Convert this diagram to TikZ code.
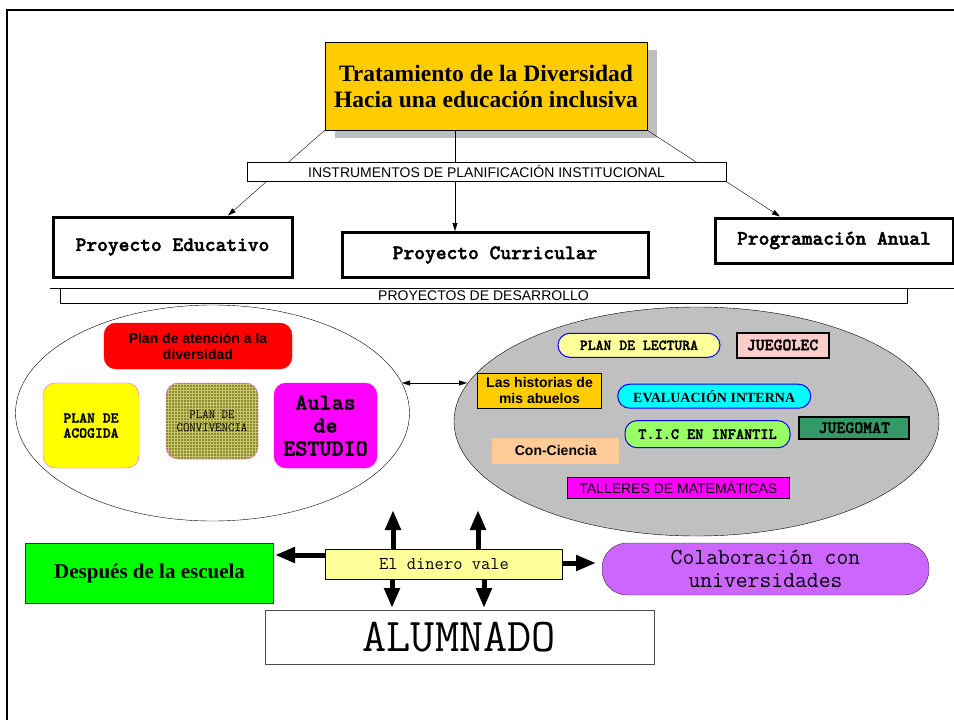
\documentclass[tikz,border=0pt]{standalone}
\usepackage{fontspec}
\setmainfont{Liberation Serif}
\newfontfamily\arialf{Liberation Sans}
\newcommand\courf{\ttfamily}
\newfontfamily\courbf[Extension=.otf,FakeBold=2]{lmmonolt10-bold}
\usetikzlibrary{shapes.geometric,arrows.meta,calc,patterns,shadows}
\newcommand\myfs[2]{\fontsize{#1}{#2}\selectfont}
\definecolor{titleyellow}{HTML}{FFCC00}
\definecolor{lightyel}{HTML}{FFFF99}
\definecolor{pureyellow}{HTML}{FFFF00}
\definecolor{puremagenta}{HTML}{FF00FF}
\definecolor{puregreen}{HTML}{00FF00}
\definecolor{purered}{HTML}{FF0000}
\definecolor{pinkbd}{HTML}{FF55FF}
\definecolor{olivebg}{HTML}{8E8C30}
\definecolor{olivegrid}{HTML}{C8C46A}
\definecolor{pinkfill}{HTML}{FFCCCC}
\definecolor{cyanfill}{HTML}{00FFFF}
\definecolor{ticgreen}{HTML}{99FF66}
\definecolor{seagreen}{HTML}{339966}
\definecolor{peach}{HTML}{FFCC99}
\definecolor{lilac}{HTML}{CC66FF}
\definecolor{ellgray}{HTML}{C0C0C0}
\definecolor{bordblue}{HTML}{0000FF}
\begin{document}
\begin{tikzpicture}[x=1pt,y=-1pt,
  plainbox/.style={draw, inner sep=0pt, align=center},
  heavybox/.style={plainbox, line width=3pt, fill=white, font=\courbf\myfs{20.5}{24}},
  bandbox/.style={plainbox, fill=white, font=\arialf\myfs{14}{15}},
  thinarrow/.style={-{Triangle[length=8pt,width=5pt]}},
  blockarrow/.style={line width=5pt, -{Triangle[length=20pt,width=15pt]}},
  pill/.style={plainbox, draw=bordblue, line width=1pt, rounded corners=12pt},
  roundbox/.style={plainbox, rounded corners=12pt}
]
\useasboundingbox (0,0) rectangle (954,720);
% frame
\coordinate (ftl) at (7,10);
\coordinate (ftr) at (954,10);
\coordinate (fbl) at (7,720);
\draw[line width=2.5pt] (ftr) -- (ftl) -- (fbl);

% title
\node[plainbox, fill=titleyellow, general shadow={fill=black!25, shadow xshift=10pt, shadow yshift=-8pt},
  minimum width=322pt, minimum height=88pt, font=\bfseries\myfs{23.5}{26}] (title) at (486,86)
  {Tratamiento de la Diversidad\\Hacia una educación inclusiva};

% three projects
\node[heavybox, minimum width=239pt, minimum height=60pt] (pe) at (172.5,247) {Proyecto Educativo};
\node[heavybox, minimum width=306pt, minimum height=45pt] (pc) at (495,255) {Proyecto Curricular};
\node[heavybox, minimum width=238pt, minimum height=45pt] (pa) at (834,240.5) {Programación Anual};

\draw[thinarrow] (title.south west) -- ($(pe.north)+(55.5,0)$);
\draw[thinarrow] ($(title.south)+(-31,0)$) -- ($(pc.north)+(-40,0)$);
\draw[thinarrow] (title.south east) -- ($(pa.north)+(-54,0)$);

\node[bandbox, minimum width=479pt, minimum height=19pt] (instr) at (486.5,171.5)
  {INSTRUMENTOS DE PLANIFICACIÓN INSTITUCIONAL};

% desarrollo band
\coordinate (hl1) at (50,288);
\coordinate (hl2) at (954,288);
\draw (hl1) -- (hl2);
\node[bandbox, minimum width=847pt, minimum height=15pt] (desa) at (483.5,295.5) {PROYECTOS DE DESARROLLO};

% ellipses
\node[ellipse, draw, fill=white, inner sep=0pt, minimum width=394pt, minimum height=216pt] (lell) at (212.5,413) {};
\node[ellipse, draw, fill=ellgray, inner sep=0pt, minimum width=485pt, minimum height=229pt] (rell) at (696.5,421.5) {};
\coordinate (da1) at (402,383);
\coordinate (da2) at (467,383);
\draw[{Triangle[length=8pt,width=5pt]}-{Triangle[length=8pt,width=5pt]}] (da1) -- (da2);

% left ellipse content
\node[roundbox, draw=purered, fill=purered, minimum width=188pt, minimum height=46pt,
  font=\arialf\bfseries\myfs{14}{16}] (pad) at (198,346) {Plan de atención a la\\diversidad};
\node[roundbox, draw=pinkbd, fill=pureyellow, minimum width=96pt, minimum height=85pt,
  font=\courbf\myfs{15}{15}] (acog) at (91,425.5) {PLAN DE\\ACOGIDA};
\node[roundbox, draw=pinkbd, preaction={fill=olivebg}, pattern=grid, pattern color=olivegrid,
  minimum width=92pt, minimum height=76pt, font=\courf\myfs{12.5}{12.7}] (conv) at (212,421) {PLAN DE\\CONVIVENCIA};
\node[roundbox, draw=puremagenta, fill=puremagenta, minimum width=103pt, minimum height=85pt,
  font=\courbf\myfs{23}{23}] (aulas) at (325.5,425.5) {Aulas\\de\\ESTUDIO};

% right ellipse content
\node[pill, fill=lightyel, minimum width=162pt, minimum height=24pt, font=\courbf\myfs{15}{15}] (lect) at (639,345.3) {PLAN DE LECTURA};
\node[plainbox, line width=2pt, fill=pinkfill, minimum width=92pt, minimum height=25pt, font=\courbf\myfs{17}{18}] (jlec) at (782.5,345) {JUEGOLEC};
\node[plainbox, line width=1.5pt, fill=titleyellow, minimum width=124pt, minimum height=35pt, font=\arialf\bfseries\myfs{14}{16}] (abue) at (539.5,390.8) {Las historias de\\mis abuelos};
\node[pill, fill=cyanfill, minimum width=193pt, minimum height=24pt, font=\bfseries\myfs{14}{16}] (eval) at (714.2,396.2) {EVALUACIÓN INTERNA};
\node[pill, fill=ticgreen, minimum width=165pt, minimum height=27pt, font=\courbf\myfs{15.5}{16}] (tic) at (707.5,434.2) {T.I.C EN INFANTIL};
\node[plainbox, line width=2pt, fill=seagreen, minimum width=110pt, minimum height=22pt, font=\courbf\myfs{17}{18}] (jmat) at (854.3,427.8) {JUEGOMAT};
\node[plainbox, draw=none, fill=peach, minimum width=127pt, minimum height=26pt, font=\arialf\bfseries\myfs{14}{16}] (conc) at (555.7,450.5) {Con-Ciencia};
\node[plainbox, fill=puremagenta, minimum width=222pt, minimum height=21pt, font=\arialf\myfs{14}{16}] (tall) at (678.3,487.8) {TALLERES DE MATEMÁTICAS};

% bottom
\node[plainbox, fill=lightyel, minimum width=237pt, minimum height=30pt, font=\courf\myfs{18}{18}] (dv) at (444,564) {El dinero vale};
\node[plainbox, draw=black!80, fill=puregreen, minimum width=248pt, minimum height=60pt, font=\bfseries\myfs{21}{23}] (desp) at (149.6,573) {Después de la escuela};
\node[plainbox, draw=black!80, fill=lilac, rounded corners=25pt, minimum width=327pt, minimum height=52pt, font=\courf\myfs{23}{23}] (colab) at (765.5,569) {Colaboración con\\universidades};
\node[plainbox, draw=black!70, fill=white, minimum width=389pt, minimum height=54pt, font=\courf\myfs{47}{47}] (alum) at (459.3,637) {ALUMNADO};

\coordinate (u1) at (393,510);
\coordinate (u2) at (478,510);
\coordinate (d1) at (392,608);
\coordinate (d2) at (484,608);
\coordinate (lt) at (275,555);
\coordinate (rt) at (596,563);
\draw[blockarrow] (u1 |- dv.north) -- (u1);
\draw[blockarrow] (u2 |- dv.north) -- (u2);
\draw[blockarrow] (d1 |- dv.south) -- (d1);
\draw[blockarrow] (d2 |- dv.south) -- (d2);
\draw[blockarrow] (dv.west |- lt) -- (lt);
\draw[blockarrow] (dv.east |- rt) -- (rt);
\end{tikzpicture}
\end{document}
